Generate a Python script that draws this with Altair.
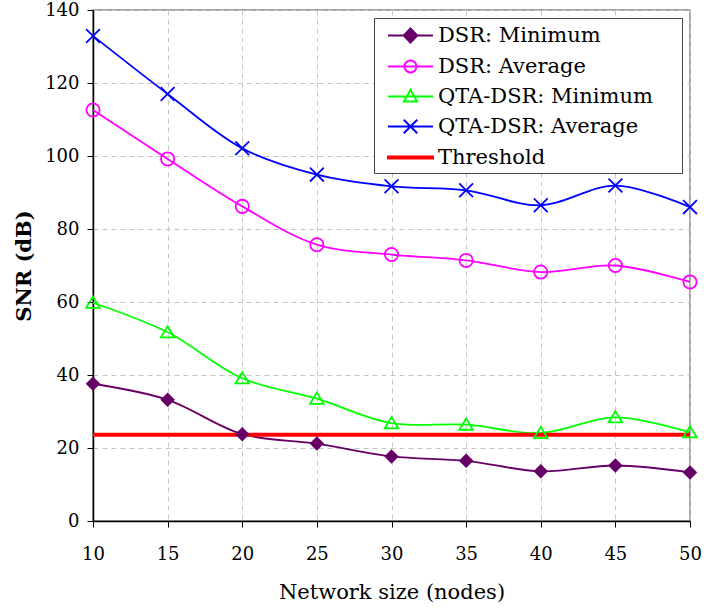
import altair as alt
import pandas as pd

# Network sizes (nodes) and SNR results in dB
sizes = [10, 15, 20, 25, 30, 35, 40, 45, 50]
dsr_min = [37.6, 33.2, 23.8, 21.2, 17.7, 16.5, 13.6, 15.2, 13.3]
dsr_avg = [112.6, 99.2, 86.2, 75.7, 73.0, 71.4, 68.2, 70.0, 65.5]
qta_min = [59.8, 51.7, 39.1, 33.5, 26.8, 26.4, 24.1, 28.4, 24.3]
qta_avg = [132.9, 117.0, 102.1, 94.9, 91.7, 90.6, 86.5, 91.9, 86.0]
threshold = 23.6

series_names = ["DSR: Minimum", "DSR: Average", "QTA-DSR: Minimum",
                "QTA-DSR: Average", "Threshold"]
series_colors = ["#660066", "#ff00ff", "#00ff00", "#0000ff", "#ff0000"]
series_fills = ["#660066", "transparent", "transparent", "transparent", "#ff0000"]

# Legend glyphs: a horizontal line with the marker drawn over it
legend_paths = [
    "M-2,0L2,0M0,-0.62L0.6,0L0,0.62L-0.6,0Z",
    "M-2,0L2,0M0.53,0A0.53,0.53 0 1,1 -0.53,0A0.53,0.53 0 1,1 0.53,0",
    "M-2,0L2,0M0,-0.6L0.58,0.45L-0.58,0.45Z",
    "M-2,0L2,0M-0.6,-0.6L0.6,0.6M0.6,-0.6L-0.6,0.6",
    "M-2,-0.09L2,-0.09L2,0.09L-2,0.09Z",
]

values = {
    "DSR: Minimum": dsr_min,
    "DSR: Average": dsr_avg,
    "QTA-DSR: Minimum": qta_min,
    "QTA-DSR: Average": qta_avg,
}
rows = []
for name, vals in values.items():
    for n, v in zip(sizes, vals):
        rows.append({"nodes": n, "snr": v, "series": name})
df = pd.DataFrame(rows)
legend_df = pd.concat(
    [df, pd.DataFrame({"nodes": sizes, "snr": [threshold] * len(sizes),
                       "series": ["Threshold"] * len(sizes)})],
    ignore_index=True,
)

FONT = "DejaVu Serif"

x_enc = alt.X("nodes:Q", title="Network size (nodes)",
              scale=alt.Scale(domain=[10, 50], nice=False),
              axis=alt.Axis(values=sizes, labelPadding=18, titlePadding=18,
                            labelFlush=False))
y_enc = alt.Y("snr:Q", title="SNR (dB)",
              scale=alt.Scale(domain=[0, 140], nice=False),
              axis=alt.Axis(values=[0, 20, 40, 60, 80, 100, 120, 140],
                            labelPadding=8, titlePadding=10, labelFlush=False,
                            titleFontWeight="bold", titleFontSize=21))

base = alt.Chart(df)

lines = base.mark_line(interpolate="catmull-rom", strokeWidth=1.8, clip=False).encode(
    x=x_enc, y=y_enc,
    color=alt.Color("series:N", scale=alt.Scale(domain=series_names, range=series_colors),
                    legend=None),
    detail="series:N",
)

thr = alt.Chart(pd.DataFrame({"snr": [threshold]})).mark_rule(
    color="#ff0000", strokeWidth=4).encode(y=alt.Y("snr:Q"))

def markers(name, shape, size, filled, color):
    return base.transform_filter(alt.datum.series == name).mark_point(
        shape=shape, size=size, filled=filled, color=color,
        strokeWidth=1.8, opacity=1, clip=False,
    ).encode(x="nodes:Q", y="snr:Q")

pts_dsr_min = markers("DSR: Minimum", "diamond", 210, True, "#660066")
pts_dsr_avg = markers("DSR: Average", "circle", 175, False, "#ff00ff")
pts_qta_min = markers("QTA-DSR: Minimum", "M0,-0.9L1,0.75L-1,0.75Z", 185, False, "#00ff00")
pts_qta_avg = markers("QTA-DSR: Average", "M-1,-1L1,1M1,-1L-1,1", 190, False, "#0000ff")

# A blank title on the right side gives the legend box its right margin
legend = alt.Legend(
    title="\u00a0", titleOrient="right", titlePadding=24, titleFontSize=4,
    orient="none", legendX=281, legendY=8,
    padding=5, rowPadding=7, symbolSize=506, symbolStrokeWidth=2,
    symbolOpacity=1, symbolOffset=19, labelOffset=15,
    labelFont=FONT, labelFontSize=21, labelColor="black", labelLimit=0,
    strokeColor="#444444", fillColor="white", cornerRadius=0,
)

legend_layer = alt.Chart(legend_df).mark_point(opacity=0).encode(
    x="nodes:Q", y="snr:Q",
    shape=alt.Shape("series:N", scale=alt.Scale(domain=series_names, range=legend_paths),
                    legend=legend),
    stroke=alt.Stroke("series:N", scale=alt.Scale(domain=series_names, range=series_colors),
                      legend=legend),
    fill=alt.Fill("series:N", scale=alt.Scale(domain=series_names, range=series_fills),
                  legend=legend),
)

chart = alt.layer(
    lines, thr, pts_dsr_min, pts_dsr_avg, pts_qta_min, pts_qta_avg, legend_layer
).resolve_scale(color="independent").properties(
    width=597, height=511,
    autosize=alt.AutoSizeParams(type="none"),
    padding={"left": 93, "top": 10, "right": 14, "bottom": 89},
    background="white",
).configure_view(
    stroke="#888888", strokeWidth=1.5,
).configure_axis(
    labelFont=FONT, labelFontSize=18, labelColor="black",
    titleFont=FONT, titleFontSize=21, titleColor="black", titleFontWeight="normal",
    domainColor="black", domainWidth=1.5, tickColor="black", tickSize=6, tickWidth=1,
    gridColor="#c4c4c4", gridDash=[5, 4], gridWidth=1,
)

chart.save("out.html", embed_options={"renderer": "svg", "actions": False})
